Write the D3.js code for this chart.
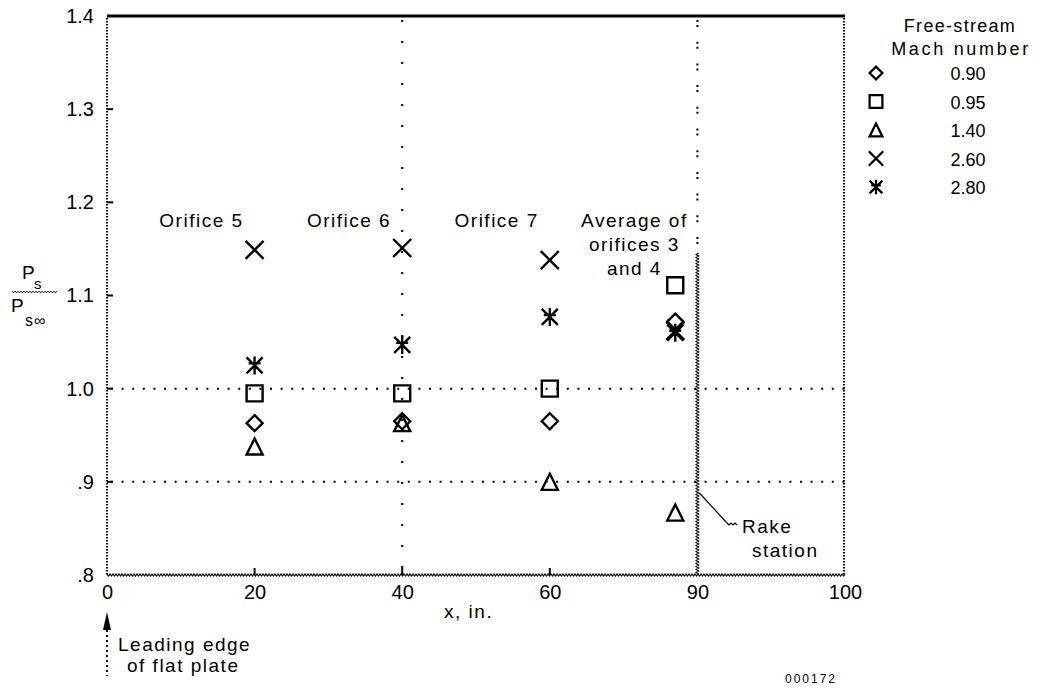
<!DOCTYPE html>
<html>
<head>
<meta charset="utf-8">
<script src="https://cdn.jsdelivr.net/npm/d3@7"></script>
<style>
  body { margin: 0; background: #fff; }
  svg text { font-family: "Liberation Sans", Arial, sans-serif; fill: #000; }
  .note { font-size: 19px; letter-spacing: 1.5px; }
</style>
</head>
<body>
<svg id="chart" width="1037" height="690"></svg>
<script>
// stations along the plate (in.) and readings per free-stream Mach number
const stations = [20, 40, 60, 85.5];
const machNumbers = ["0.90", "0.95", "1.40", "2.60", "2.80"];
const ratioM090 = [0.963, 0.965, 0.965, 1.072];
const ratioM095 = [0.995, 0.995, 1.000, 1.111];
const ratioM140 = [0.938, 0.963, 0.900, 0.867];
const ratioM260 = [1.149, 1.151, 1.138, 1.062];
const ratioM280 = [1.025, 1.047, 1.077, 1.060];

const xTicks = [0, 20, 40, 60, 90, 100];
const yTicks = [1.4, 1.3, 1.2, 1.1, 1.0, 0.9, 0.8];
const yTickLabels = ["1.4", "1.3", "1.2", "1.1", "1.0", ".9", ".8"];
const orificeLabels = ["Orifice 5", "Orifice 6", "Orifice 7"];
const averageLabel = ["Average of", "orifices 3", "and 4"];
const rakeX = 90;

const marginLeft = 107;
const marginTop = 16;
const width = 738;
const height = 559;

const svg = d3.select("#chart");

// the original axis spaces its ticks evenly, so 60 -> 90 gets the same room as 0 -> 20
const x = d3.scaleLinear()
    .domain(xTicks)
    .range(xTicks.map((d, i) => marginLeft + i * width / (xTicks.length - 1)));

const y = d3.scaleLinear()
    .domain([0.8, 1.4])
    .range([marginTop + height, marginTop]);

const plotLeft = x(0), plotRight = x(100), plotTop = y(1.4), plotBottom = y(0.8);

function wavy(x0, y0, x1, y1, step, amp) {
  const len = Math.hypot(x1 - x0, y1 - y0);
  const ux = (x1 - x0) / len, uy = (y1 - y0) / len;
  const pts = [];
  for (let s = 0, k = 0; s <= len; s += step, k++) {
    const o = (k % 2 ? amp : -amp);
    pts.push([x0 + ux * s - uy * o, y0 + uy * s + ux * o]);
  }
  return d3.line()(pts);
}

// grid
svg.append("line")
    .attr("x1", x(40)).attr("x2", x(40))
    .attr("y1", plotTop + 4).attr("y2", plotBottom)
    .attr("stroke", "#000").attr("stroke-width", 2)
    .attr("stroke-dasharray", "2,19");

svg.append("line")
    .attr("x1", x(rakeX)).attr("x2", x(rakeX))
    .attr("y1", plotTop + 4).attr("y2", 253)
    .attr("stroke", "#000").attr("stroke-width", 2)
    .attr("stroke-dasharray", "2,3,2,14.7");

[1.0, 0.9].forEach(v => {
  svg.append("line")
      .attr("x1", plotLeft + 4).attr("x2", plotRight)
      .attr("y1", y(v)).attr("y2", y(v))
      .attr("stroke", "#000").attr("stroke-width", 2)
      .attr("stroke-dasharray", "2,8.6");
});

// frame
svg.append("line")
    .attr("x1", plotLeft).attr("x2", plotRight)
    .attr("y1", plotTop).attr("y2", plotTop)
    .attr("stroke", "#000").attr("stroke-width", 3);

svg.append("line")
    .attr("x1", plotLeft).attr("x2", plotLeft)
    .attr("y1", plotTop + 2).attr("y2", plotBottom)
    .attr("stroke", "#000").attr("stroke-width", 2)
    .attr("stroke-dasharray", "1.5,1.5");

svg.append("line")
    .attr("x1", plotRight - 1).attr("x2", plotRight - 1)
    .attr("y1", plotTop + 2).attr("y2", plotBottom)
    .attr("stroke", "#000").attr("stroke-width", 2)
    .attr("stroke-dasharray", "1.5,1.5");

svg.append("path")
    .attr("d", wavy(plotLeft, plotBottom, plotRight, plotBottom, 1.5, 1))
    .attr("fill", "none").attr("stroke", "#000").attr("stroke-width", 1.2);

// rake station line
svg.append("path")
    .attr("d", wavy(x(rakeX), 253, x(rakeX), plotBottom, 1.5, 1.2))
    .attr("fill", "none").attr("stroke", "#000").attr("stroke-width", 1.3);

// small inward ticks
yTicks.slice(1, 6).forEach(v => {
  svg.append("line")
      .attr("x1", plotLeft).attr("x2", plotLeft + 6)
      .attr("y1", y(v)).attr("y2", y(v))
      .attr("stroke", "#000").attr("stroke-width", 2);
});
[20, 40, 60].forEach(v => {
  svg.append("line")
      .attr("x1", x(v)).attr("x2", x(v))
      .attr("y1", plotBottom).attr("y2", plotBottom - 7)
      .attr("stroke", "#000").attr("stroke-width", 2);
});

// axes (labels only)
const yAxis = svg.append("g")
    .attr("transform", `translate(${plotLeft - 10},0)`)
    .call(d3.axisLeft(y).tickValues(yTicks).tickSize(0).tickFormat((d, i) => yTickLabels[i]));
yAxis.select(".domain").remove();
yAxis.selectAll("text")
    .attr("font-size", 20)
    .attr("font-family", "Liberation Sans, Arial, sans-serif");

const xAxis = svg.append("g")
    .attr("transform", `translate(0,${plotBottom + 7})`)
    .call(d3.axisBottom(x).tickValues(xTicks).tickSize(0).tickFormat(d3.format("d")));
xAxis.select(".domain").remove();
xAxis.selectAll("text")
    .attr("font-size", 20)
    .attr("font-family", "Liberation Sans, Arial, sans-serif");

svg.append("text")
    .attr("class", "note")
    .attr("x", x(49)).attr("y", 618)
    .attr("text-anchor", "middle")
    .text("x, in.");

// y axis title  Ps / Ps∞
const yt = svg.append("g");
yt.append("text").attr("x", 22).attr("y", 279).attr("font-size", 19).text("P");
yt.append("text").attr("x", 34).attr("y", 289).attr("font-size", 15).text("s");
yt.append("path")
    .attr("d", wavy(12, 292, 57, 292, 1.5, 0.8))
    .attr("fill", "none").attr("stroke", "#000").attr("stroke-width", 1);
yt.append("text").attr("x", 11).attr("y", 312).attr("font-size", 19).text("P");
yt.append("text").attr("x", 25).attr("y", 326).attr("font-size", 16)
    .attr("letter-spacing", 1).text("s\u221E");

// symbols
const markerPaths = {
  "0.90": "M0,-8L8,0L0,8L-8,0Z",
  "0.95": "M-8,-8H8V8H-8Z",
  "1.40": "M0,-8L8,8H-8Z",
  "2.60": "M-9,-9L9,9M9,-9L-9,9",
  "2.80": "M-8,-8L8,8M8,-8L-8,8M0,-9V9M-6,-2H6"
};

const seriesValues = [ratioM090, ratioM095, ratioM140, ratioM260, ratioM280];
const points = [];
machNumbers.forEach((m, i) => {
  stations.forEach((s, j) => points.push({ mach: m, station: s, value: seriesValues[i][j] }));
});

svg.selectAll(".pt")
    .data(points)
    .enter().append("path")
    .attr("class", "pt")
    .attr("transform", d => `translate(${x(d.station)},${y(d.value)})`)
    .attr("d", d => markerPaths[d.mach])
    .attr("fill", "none")
    .attr("stroke", "#000")
    .attr("stroke-width", 2.4);

// station labels
svg.selectAll(".orifice")
    .data(orificeLabels)
    .enter().append("text")
    .attr("class", "orifice note")
    .attr("x", (d, i) => x(stations[i]) - 11)
    .attr("y", 227)
    .attr("text-anchor", "end")
    .text(d => d);

svg.selectAll(".avg")
    .data(averageLabel)
    .enter().append("text")
    .attr("class", "avg note")
    .attr("x", x(rakeX) - 63)
    .attr("y", (d, i) => 227 + i * 24)
    .attr("text-anchor", "middle")
    .text(d => d);

// rake station callout
svg.append("path")
    .attr("d", `M${x(rakeX) + 2},493L727,523`)
    .attr("fill", "none").attr("stroke", "#000").attr("stroke-width", 1.2);
svg.append("path")
    .attr("d", wavy(727, 524, 737, 524, 2, 1))
    .attr("fill", "none").attr("stroke", "#000").attr("stroke-width", 1.2);
svg.append("text").attr("class", "note").attr("x", 742).attr("y", 533).text("Rake");
svg.append("text").attr("class", "note").attr("x", 752).attr("y", 557).text("station");

// leading edge arrow
svg.append("line")
    .attr("x1", plotLeft).attr("x2", plotLeft)
    .attr("y1", 630).attr("y2", 676)
    .attr("stroke", "#000").attr("stroke-width", 2)
    .attr("stroke-dasharray", "2,3");
svg.append("path")
    .attr("d", `M${plotLeft},612L${plotLeft + 4},630H${plotLeft - 4}Z`)
    .attr("fill", "#000");
svg.append("text").attr("class", "note").attr("x", 118).attr("y", 651).text("Leading edge");
svg.append("text").attr("class", "note").attr("x", 127).attr("y", 672).text("of flat plate");

// legend
const legend = svg.append("g");
legend.append("text").attr("x", 960).attr("y", 32).attr("text-anchor", "middle")
    .attr("font-size", 18).attr("letter-spacing", 1.3).text("Free-stream");
legend.append("text").attr("x", 961).attr("y", 55).attr("text-anchor", "middle")
    .attr("font-size", 18).attr("letter-spacing", 2.7).text("Mach number");

const legendRows = legend.selectAll(".row")
    .data(machNumbers)
    .enter().append("g")
    .attr("class", "row")
    .attr("transform", (d, i) => `translate(0,${73 + i * 28.5})`);
legendRows.append("path")
    .attr("transform", "translate(876,0) scale(0.8)")
    .attr("d", d => markerPaths[d])
    .attr("fill", "none").attr("stroke", "#000").attr("stroke-width", 2.8);
legendRows.append("text")
    .attr("x", 968).attr("y", 7)
    .attr("text-anchor", "middle")
    .attr("font-size", 18)
    .text(d => d);

svg.append("text").attr("x", 785).attr("y", 683).attr("font-size", 12)
    .attr("letter-spacing", 2).text("000172");
</script>
</body>
</html>
